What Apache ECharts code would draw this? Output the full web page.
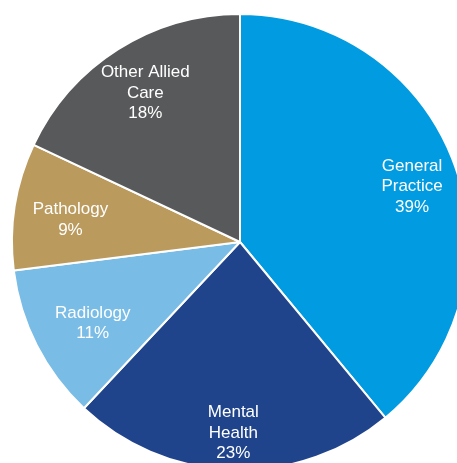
<!DOCTYPE html>
<html><head><meta charset="utf-8">
<script src="https://cdn.jsdelivr.net/npm/echarts@6/dist/echarts.min.js"></script>
<style>html,body{margin:0;padding:0;background:#fff}#c{width:457px;height:463px}</style>
</head><body><div id="c"></div>
<script>
const categories = ['General\nPractice', 'Mental\nHealth', 'Radiology', 'Pathology', 'Other Allied\nCare'];
const values = [39, 23, 11, 9, 18];
const colors = ['#009BE1', '#20448C', '#79BCE6', '#BB9A5E', '#58595B'];
const labelOffsets = [[62, -16], [-3, 74], [-43, 28], [-54, -4], [-32, -50]];

const chart = echarts.init(document.getElementById('c'), null, {renderer: 'canvas'});
chart.setOption({
  animation: false,
  series: [{
    type: 'pie',
    center: [240, 242],
    radius: 228,
    startAngle: 90,
    clockwise: true,
    avoidLabelOverlap: false,
    itemStyle: {borderColor: '#fff', borderWidth: 2},
    label: {
      show: true, position: 'inside',
      color: '#fff', fontFamily: 'Liberation Sans, Arial, sans-serif',
      fontSize: 17, lineHeight: 20.5, align: 'center',
      formatter: p => p.name + '\n' + p.value + '%'
    },
    labelLine: {show: false},
    emphasis: {disabled: true},
    data: categories.map((c, i) => ({
      name: c, value: values[i],
      itemStyle: {color: colors[i]},
      label: {offset: labelOffsets[i]}
    }))
  }]
});
</script></body></html>
